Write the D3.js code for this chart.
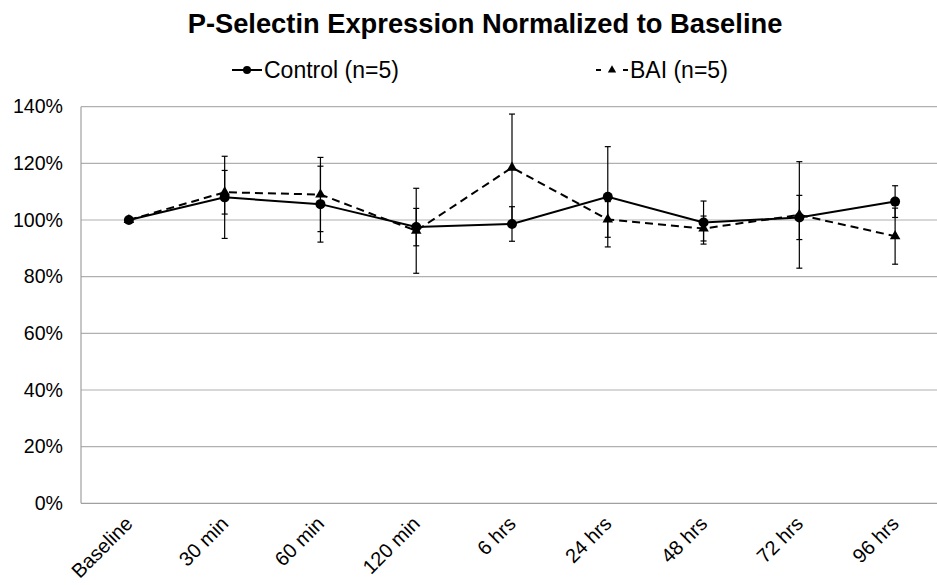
<!DOCTYPE html>
<html>
<head>
<meta charset="utf-8">
<script src="https://cdn.jsdelivr.net/npm/d3@7"></script>
<style>
  html, body { margin: 0; padding: 0; background: #fff; }
  svg { display: block; font-family: "Liberation Sans", Arial, sans-serif; }
</style>
</head>
<body>
<svg id="chart" width="937" height="585"></svg>
<script>
const categories = ["Baseline", "30 min", "60 min", "120 min", "6 hrs", "24 hrs", "48 hrs", "72 hrs", "96 hrs"];
const controlValues = [100, 108.0, 105.6, 97.5, 98.6, 108.2, 99.1, 100.9, 106.5];
const controlErrors = [0, 14.5, 13.4, 6.6, 6.1, 17.7, 7.6, 7.8, 5.6];
const baiValues = [100, 109.8, 109.0, 96.2, 118.5, 100.2, 97.0, 101.8, 94.3];
const baiErrors = [0, 7.7, 13.1, 15.0, 18.9, 6.3, 4.4, 18.8, 9.9];
const yTicks = [0, 20, 40, 60, 80, 100, 120, 140];
const titleText = "P-Selectin Expression Normalized to Baseline";
const legendLabels = ["Control (n=5)", "BAI (n=5)"];

(function () {
const svg = d3.select("#chart");
const W = 937;
const pL = 81, pR = 943, pT = 106.7, pB = 503.3;

const x = d3.scaleBand().domain(categories).range([pL, pR]).paddingInner(0).paddingOuter(0);
const cx = c => x(c) + x.bandwidth() / 2;
const y = d3.scaleLinear().domain([0, 140]).range([pB, pT]);

// Title
svg.append("text")
  .attr("x", 485).attr("y", 33)
  .attr("text-anchor", "middle")
  .attr("font-size", 27.3).attr("font-weight", "bold").attr("fill", "#000")
  .text(titleText);

// Gridlines
svg.append("g").selectAll("line").data(yTicks.filter(t => t > 0)).join("line")
  .attr("x1", pL).attr("x2", W)
  .attr("y1", d => y(d)).attr("y2", d => y(d))
  .attr("stroke", "#b0b0b0").attr("stroke-width", 1.2);

// Axis lines
svg.append("line").attr("x1", pL).attr("x2", pL).attr("y1", pT).attr("y2", pB)
  .attr("stroke", "#a0a0a0").attr("stroke-width", 1.2);
svg.append("line").attr("x1", pL).attr("x2", W).attr("y1", pB).attr("y2", pB)
  .attr("stroke", "#a0a0a0").attr("stroke-width", 1.2);

// Y axis labels
const yAxis = d3.axisLeft(y).tickValues(yTicks).tickFormat(d => d + "%").tickSize(0).tickPadding(18);
const yg = svg.append("g").attr("transform", `translate(${pL},0)`).call(yAxis);
yg.select(".domain").remove();
yg.selectAll("text").attr("font-size", 19.6).attr("fill", "#000")
  .attr("font-family", "'Liberation Sans', Arial, sans-serif");

// X axis labels
svg.append("g").selectAll("text").data(categories).join("text")
  .attr("transform", d => `translate(${cx(d) + 5},525) rotate(-45)`)
  .attr("text-anchor", "end")
  .attr("font-size", 20).attr("fill", "#000")
  .text(d => d);

// Error bars
function errorBars(vals, errs) {
  const g = svg.append("g");
  const data = categories.map((c, i) => ({ c, v: vals[i], e: errs[i] })).filter(d => d.e > 0);
  g.selectAll("line.v").data(data).join("line").attr("class", "v")
    .attr("x1", d => cx(d.c)).attr("x2", d => cx(d.c))
    .attr("y1", d => y(d.v + d.e)).attr("y2", d => y(d.v - d.e))
    .attr("stroke", "#000").attr("stroke-width", 1.2);
  [1, -1].forEach(s => {
    const cls = "cap" + (s > 0 ? "u" : "d");
    g.selectAll("line." + cls).data(data).join("line").attr("class", cls)
      .attr("x1", d => cx(d.c) - 3).attr("x2", d => cx(d.c) + 3)
      .attr("y1", d => y(d.v + s * d.e)).attr("y2", d => y(d.v + s * d.e))
      .attr("stroke", "#000").attr("stroke-width", 1.2);
  });
}
errorBars(controlValues, controlErrors);
errorBars(baiValues, baiErrors);

const line = d3.line().x(d => cx(d.c)).y(d => y(d.v));
const controlData = categories.map((c, i) => ({ c, v: controlValues[i] }));
const baiData = categories.map((c, i) => ({ c, v: baiValues[i] }));

svg.append("path").datum(controlData).attr("d", line)
  .attr("fill", "none").attr("stroke", "#000").attr("stroke-width", 2);
svg.append("path").datum(baiData).attr("d", line)
  .attr("fill", "none").attr("stroke", "#000").attr("stroke-width", 2).attr("stroke-dasharray", "8,5");

svg.append("g").selectAll("circle").data(controlData).join("circle")
  .attr("cx", d => cx(d.c)).attr("cy", d => y(d.v)).attr("r", 5).attr("fill", "#000");

const tri = d3.symbol().type(d3.symbolTriangle).size(48);
svg.append("g").selectAll("path").data(baiData).join("path")
  .attr("transform", d => `translate(${cx(d.c)},${y(d.v)})`)
  .attr("d", tri).attr("fill", "#000");

// Legend
const lg = svg.append("g");
lg.append("line").attr("x1", 232).attr("x2", 262).attr("y1", 70).attr("y2", 70)
  .attr("stroke", "#000").attr("stroke-width", 2);
lg.append("circle").attr("cx", 247).attr("cy", 70).attr("r", 4).attr("fill", "#000");
lg.append("text").attr("x", 264).attr("y", 78).attr("font-size", 23).attr("fill", "#000").text(legendLabels[0]);

lg.append("line").attr("x1", 596).attr("x2", 601).attr("y1", 70).attr("y2", 70)
  .attr("stroke", "#000").attr("stroke-width", 2);
lg.append("line").attr("x1", 623).attr("x2", 628).attr("y1", 70).attr("y2", 70)
  .attr("stroke", "#000").attr("stroke-width", 2);
lg.append("path").attr("transform", "translate(612,70)")
  .attr("d", d3.symbol().type(d3.symbolTriangle).size(30)).attr("fill", "#000");
lg.append("text").attr("x", 630).attr("y", 78).attr("font-size", 23).attr("fill", "#000").text(legendLabels[1]);
})();
</script>
</body>
</html>
